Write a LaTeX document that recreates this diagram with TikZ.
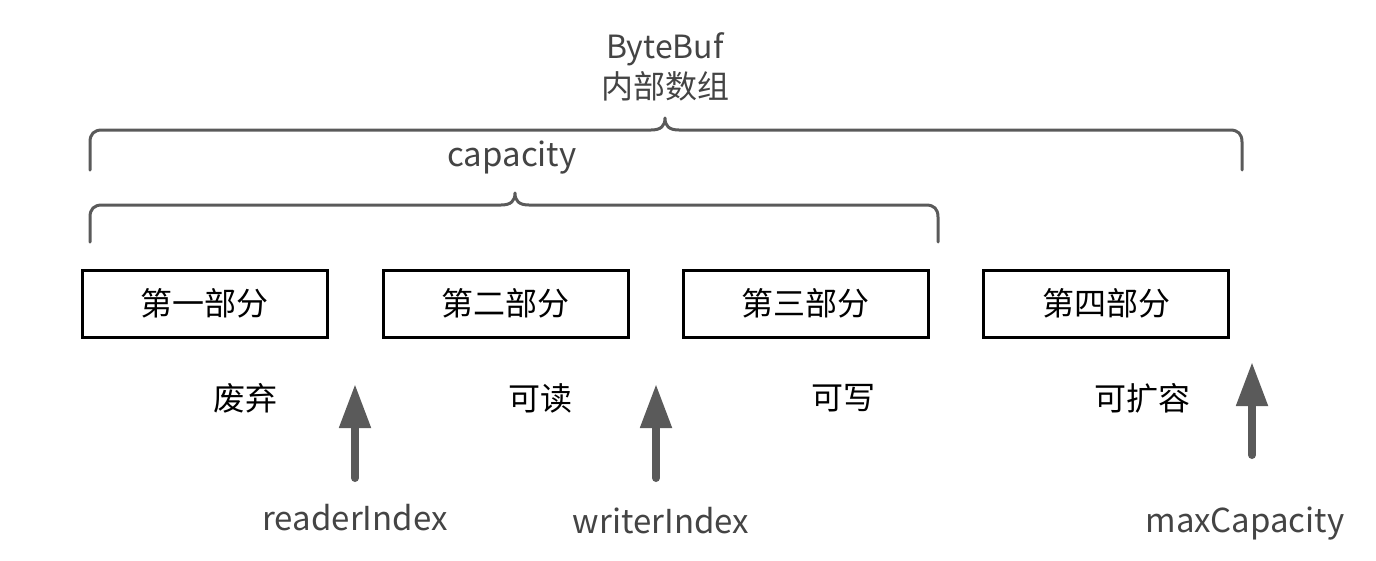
\documentclass[tikz,border=0pt]{standalone}
\usepackage{fontspec}
\setmainfont{Noto Sans CJK SC}
\usetikzlibrary{arrows.meta}
\definecolor{lineg}{HTML}{5A5A5A}
\definecolor{txtg}{HTML}{444444}
\tikzset{
  partbox/.style={draw=black, line width=3pt, minimum width=245pt, minimum height=67pt, inner sep=0pt, font=\fontsize{32}{38}\selectfont},
  cnlabel/.style={font=\fontsize{32}{38}\selectfont, text=black, inner sep=0pt},
  enlabel/.style={font=\fontsize{33}{38}\selectfont, text=txtg, inner sep=0pt},
  bracepath/.style={draw=lineg, line width=3pt, line cap=round, line join=round},
  ptr/.style={draw=lineg, line width=8pt, line cap=round, -{Triangle[length=44pt,width=30pt]}}
}
\begin{document}
\begin{tikzpicture}[x=1pt,y=-1pt]
\useasboundingbox (0,0) rectangle (1376,560);
% title
\node[enlabel, align=center, font=\fontsize{32}{40}\selectfont] (title) at (665,67) {ByteBuf\\\textcolor{txtg}{内部数组}};
\node[enlabel] (cap) at (512,158) {capacity};
% outer brace
\path[bracepath] (90,170) -- (90,142) .. controls (90,134) and (94,130) .. (102,130)
  -- (651,130) .. controls (661,130) and (665,126) .. (665,118)
  .. controls (665,126) and (669,130) .. (679,130)
  -- (1230,130) .. controls (1238,130) and (1242,134) .. (1242,142) -- (1242,170);
% inner brace
\path[bracepath] (90,242) -- (90,217) .. controls (90,209) and (94,205) .. (102,205)
  -- (501,205) .. controls (511,205) and (515,201) .. (515,193)
  .. controls (515,201) and (519,205) .. (529,205)
  -- (926,205) .. controls (934,205) and (938,209) .. (938,217) -- (938,242);
% boxes
\node[partbox] (p1) at (204.5,303.5) {第一部分};
\node[partbox] (p2) at (505.5,303.5) {第二部分};
\node[partbox] (p3) at (805.5,303.5) {第三部分};
\node[partbox] (p4) at (1106,303.5) {第四部分};
% region labels
\node[cnlabel] (l1) at (245,398) {废弃};
\node[cnlabel] (l2) at (540,398) {可读};
\node[cnlabel] (l3) at (843,398) {可写};
\node[cnlabel] (l4) at (1142,398) {可扩容};
% pointers
\coordinate (r0) at (355,478); \coordinate (r1) at (355,384);
\coordinate (w0) at (656,478); \coordinate (w1) at (656,384);
\coordinate (m0) at (1252,455); \coordinate (m1) at (1252,362);
\draw[ptr] (r0) -- (r1);
\draw[ptr] (w0) -- (w1);
\draw[ptr] (m0) -- (m1);
\node[enlabel] (ri) at (355,518) {readerIndex};
\node[enlabel] (wi) at (661,521) {writerIndex};
\node[enlabel] (mc) at (1245,524) {maxCapacity};
\end{tikzpicture}
\end{document}
